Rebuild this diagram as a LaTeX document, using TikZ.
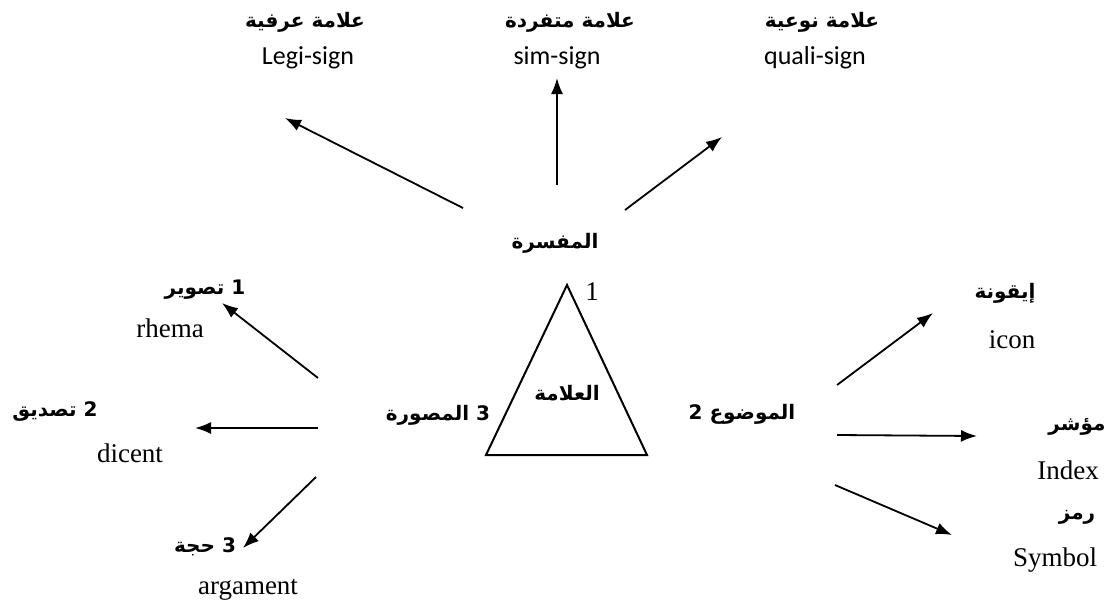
\documentclass[tikz,border=0pt]{standalone}
\usepackage{fontspec}
\setmainfont{Liberation Serif}
\newfontfamily\arabicfont[Script=Arabic]{DejaVu Sans}
\newfontfamily\labfont{Carlito}
\TeXXeTstate=1
\usetikzlibrary{arrows.meta}
\tikzset{
  artext/.style={font=\arabicfont\bfseries\fontsize{20}{24}\selectfont, inner sep=0pt},
  eng/.style={font=\fontsize{27}{30}\selectfont, inner sep=0pt},
  sig/.style={font=\labfont\fontsize{26}{30}\selectfont, inner sep=0pt},
  arr/.style={-{Latex[length=16pt,width=12pt]}, line width=1.8pt},
  tri/.style={line width=2pt, line join=miter}
}
\begin{document}
\begin{tikzpicture}[x=1pt,y=-1pt]
\useasboundingbox[fill=white] (0,0) rectangle (1116,606);

% top labels
\node[artext] (legiAr) at (305,22) {\beginR علامة عرفية\endR};
\node[sig] (legi) at (308,58) {Legi-sign};
\node[artext] (simAr) at (570,22) {\beginR علامة متفردة\endR};
\node[sig] (sim) at (557,58) {sim-sign};
\node[artext] (qualiAr) at (822,22) {\beginR علامة نوعية\endR};
\node[sig] (quali) at (815,58) {quali-sign};

% interpretant
\node[artext] (mufas) at (555,243) {\beginR المفسرة\endR};
\node[eng] (one) at (592,292) {1};

% triangle
\coordinate (tA) at (567,285);
\coordinate (tB) at (486,455);
\coordinate (tC) at (647,455);
\draw[tri] (tA) -- (tB) -- (tC) -- cycle;
\node[artext] (alama) at (567,393) {\beginR العلامة\endR};
\node[artext] (musaw) at (438,415) {\beginR 3 المصورة\endR};
\node[artext] (mawdu) at (742,414) {\beginR الموضوع 2\endR};

% top arrows
\coordinate (s1) at (463,208); \coordinate (e1) at (285,118);
\coordinate (s2) at (557,185); \coordinate (e2) at (557,78);
\coordinate (s3) at (625,210); \coordinate (e3) at (722,137);
\draw[arr] (s1) -- (e1);
\draw[arr] (s2) -- (e2);
\draw[arr] (s3) -- (e3);

% left arrows
\coordinate (l1s) at (318,378); \coordinate (l1e) at (222,303);
\coordinate (l2s) at (318,428); \coordinate (l2e) at (195,428);
\coordinate (l3s) at (316,477); \coordinate (l3e) at (243,548);
\draw[arr] (l1s) -- (l1e);
\draw[arr] (l2s) -- (l2e);
\draw[arr] (l3s) -- (l3e);

% right arrows
\coordinate (r1s) at (837,385); \coordinate (r1e) at (933,313);
\coordinate (r2s) at (837,435); \coordinate (r2e) at (977,436);
\coordinate (r3s) at (835,485); \coordinate (r3e) at (952,535);
\draw[arr] (r1s) -- (r1e);
\draw[arr] (r2s) -- (r2e);
\draw[arr] (r3s) -- (r3e);

% left labels
\node[artext] (tasw) at (205,290) {\beginR 1 تصوير\endR};
\node[eng] (rhema) at (170,328) {rhema};
\node[artext] (tasd) at (55,412) {\beginR 2 تصديق\endR};
\node[eng] (dicent) at (130,453) {dicent};
\node[artext] (hujja) at (205,547) {\beginR 3 حجة\endR};
\node[eng] (arg) at (248,590) {argament};

% right labels
\node[artext] (iqun) at (1005,293) {\beginR إيقونة\endR};
\node[eng] (icon) at (1012,340) {icon};
\node[artext] (muash) at (1077,427) {\beginR مؤشر\endR};
\node[eng] (index) at (1068,470) {Index};
\node[artext] (ramz) at (1077,517) {\beginR رمز\endR};
\node[eng] (symbol) at (1055,560) {Symbol};
\end{tikzpicture}
\end{document}
